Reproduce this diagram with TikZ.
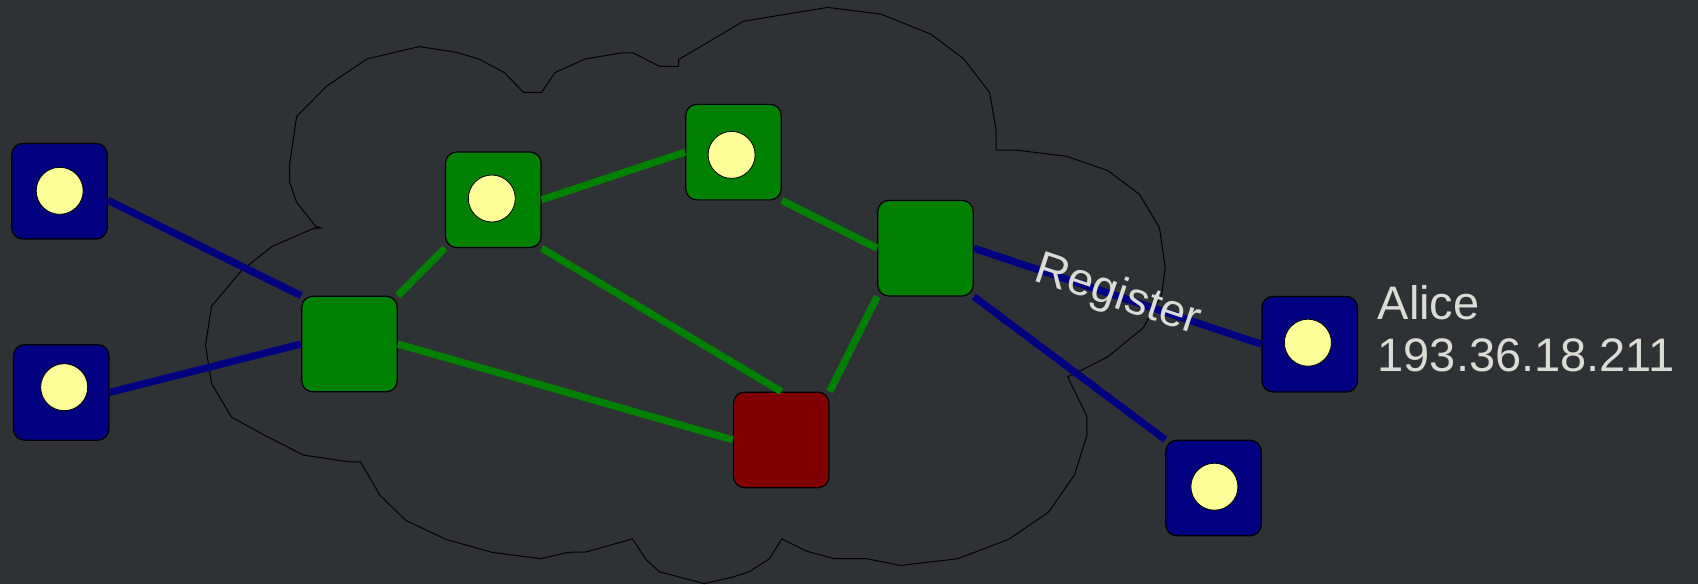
\documentclass[tikz,border=0pt]{standalone}
\usepackage{fontspec}
\setmainfont{Liberation Sans}
\definecolor{bgc}{RGB}{46,50,53}
\definecolor{navyc}{RGB}{0,0,128}
\definecolor{greenc}{RGB}{0,128,0}
\definecolor{redc}{RGB}{128,0,0}
\definecolor{ledc}{RGB}{255,255,153}
\definecolor{txtc}{RGB}{220,220,214}
\begin{document}
\begin{tikzpicture}[x=1pt,y=-1pt,
  box/.style={rectangle, rounded corners=11pt, minimum width=95.5pt, minimum height=95.5pt, inner sep=0pt, draw=black, line width=1.2pt},
  client/.style={box, fill=navyc},
  router/.style={box, fill=greenc},
  server/.style={box, fill=redc},
  led/.style={circle, draw=black, line width=0.8pt, fill=ledc, minimum size=47pt, inner sep=0pt},
  gline/.style={draw=greenc, line width=7.2pt},
  bline/.style={draw=navyc, line width=7.2pt},
  cloudline/.style={draw=black, line width=1pt},
  lbl/.style={text=txtc, font=\fontsize{47}{52}\selectfont, inner sep=0pt}]
\fill[bgc] (0,0) rectangle (1698,584);
\useasboundingbox (0,0) rectangle (1698,584);
% cloud
\draw[cloudline] (419.1,46.6) -- (455.4,52.1) -- (478.4,58.8) -- (504.4,72.6) -- (523.5,92.4) -- (541.5,92.4) -- (554.9,72.6) -- (585,59) -- (621,52.9) -- (633.3,52.9) -- (659.3,66.3) -- (678.5,66.3) -- (678.5,59.6) -- (743.5,21.2) -- (827.7,7.4) -- (881.3,14.2) -- (931,34.3) -- (963.6,58.8) -- (989.6,92.4) -- (996.1,130.4) -- (996.1,150.1) -- (1016.4,150.1) -- (1066.9,156.4) -- (1107.8,170.6) -- (1139.6,194.4) -- (1159.5,227.9) -- (1165.2,267.4) -- (1161.8,294.2) -- (1143.4,327.7) -- (1107.8,356.8) -- (1078.4,371.7) -- (1067.7,376.9) -- (1086.8,416) -- (1086.8,435.8) -- (1074.5,474.9) -- (1048.5,512.1) -- (1008.7,539.3) -- (957.8,558.7) -- (900.4,565.4) -- (866.7,558.7) -- (834.2,558.7) -- (806.7,551.2) -- (781.8,538.9) -- (769.5,558.7) -- (749.3,571.7) -- (732,577.3) -- (704.1,583.6) -- (659.3,571.7) -- (645.9,559.4) -- (632.5,538.9) -- (586,552) -- (568.3,552.3) -- (540.8,558.7) -- (491.8,552.3) -- (445.8,539.3) -- (405.7,520.3) -- (380,495.3) -- (360.5,461.8) -- (349,461.8) -- (303.5,455.1) -- (264.1,435) -- (231.5,417.1) -- (211.6,383.6) -- (205.5,345.3) -- (211.6,306.1) -- (241.1,271.1) -- (271.7,246.6) -- (313.8,228.3) -- (321,227.9) -- (315.7,226.4) -- (296.6,202.2) -- (289.7,182.5) -- (289.7,163.9) -- (296.6,116.6) -- (327.2,85.7) -- (367.4,58.8) -- cycle;
% nodes
\node[client] (b1) at (59.5,191.2) {};
\node[client] (b2) at (61.2,392.4) {};
\node[router] (gl) at (349.5,344) {};
\node[router] (gtl) at (493.3,199.8) {};
\node[router] (gtop) at (733.5,152.1) {};
\node[router] (gr) at (925.5,248.2) {};
\node[server] (red) at (781.3,439.9) {};
\node[client] (br) at (1213.5,488) {};
\node[client] (alice) at (1309.7,344.2) {};
% leds
\node[led] (b1led) at (59.7,190.8) {};
\node[led] (b2led) at (64.2,387.2) {};
\node[led] (gtlled) at (491.8,198.5) {};
\node[led] (gtopled) at (731.6,154.9) {};
\node[led] (brled) at (1214.4,486.7) {};
\node[led] (aliceled) at (1307.9,342.7) {};
% connectors
\draw[bline] ([yshift=-9pt]b1.east) -- (gl.north west);
\draw[bline] (b2.east) -- (gl.west);
\draw[gline] (gl.north east) -- (gtl.south west);
\draw[gline] (gtl.east) -- (gtop.west);
\draw[gline] (gtl.south east) -- (red.north);
\draw[gline] (gl.east) -- (red.west);
\draw[gline] (gtop.south east) -- (gr.west);
\draw[gline] (gr.south west) -- (red.north east);
\draw[bline] (gr.south east) -- (br.north west);
\draw[bline] (gr.east) -- (alice.west) node[lbl, midway, sloped, font=\fontsize{46}{52}\selectfont] (reg) {Register};
% Alice label
\node[lbl, anchor=base west] (alicename) at (1377.5,319) {Alice};
\node[lbl, anchor=base west] (aliceip) at (1377.5,371.5) {193.36.18.211};
\end{tikzpicture}
\end{document}
